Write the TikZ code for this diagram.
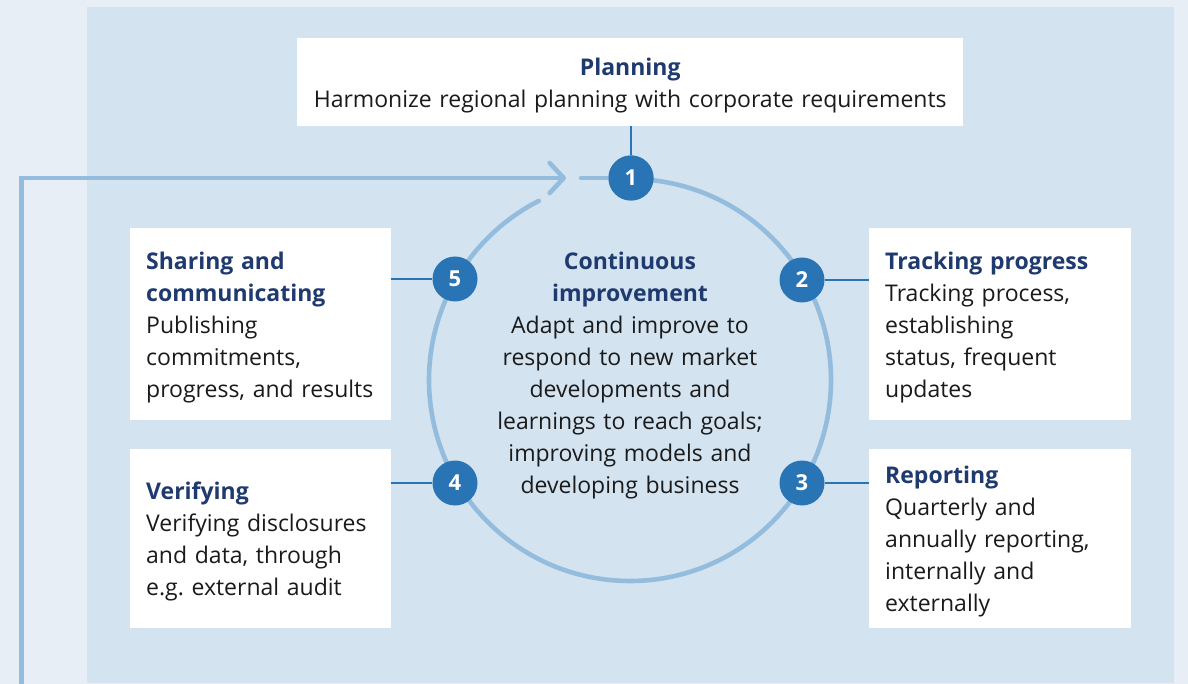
\documentclass[tikz,border=0pt]{standalone}
\usepackage{fontspec}
\setmainfont{Open Sans}
\usetikzlibrary{arrows.meta}
\definecolor{outerbg}{HTML}{E8EEF6}
\definecolor{panel}{HTML}{D4E3F0}
\definecolor{ring}{HTML}{94BCDD}
\definecolor{numblue}{HTML}{2874B5}
\definecolor{head}{HTML}{1F3A6E}
\definecolor{bodytext}{HTML}{1A1A1A}
\newcommand{\hd}[1]{{\bfseries\color{head}#1}}
\begin{document}
\begin{tikzpicture}[x=1pt,y=-1pt,
  txt/.style={font=\fontsize{23}{32}\selectfont, text=bodytext, inner sep=0pt},
  box/.style={fill=white, draw=none, inner sep=0pt, anchor=north west},
  boxtext/.style={txt, align=left, anchor=west, text width=#1, xshift=16pt, yshift=-3pt},
  num/.style={circle, fill=numblue, text=white, minimum size=45pt, inner sep=0pt, font=\fontsize{22}{24}\selectfont\bfseries},
  conn/.style={draw=numblue, line width=2.4pt},
  ringline/.style={draw=ring, line width=4.6pt}]
\useasboundingbox (0,0) rectangle (1188,684);
\fill[outerbg] (0,0) rectangle (1188,684);
\fill[panel] (87,7) rectangle (1174,683);
% boxes
\node[box, minimum width=666pt, minimum height=88pt] (plan) at (297,38) {};
\node[box, minimum width=261pt, minimum height=192pt] (share) at (130,228) {};
\node[box, minimum width=261pt, minimum height=179pt] (verify) at (130,449) {};
\node[box, minimum width=262pt, minimum height=192pt] (track) at (869,228) {};
\node[box, minimum width=262pt, minimum height=179pt] (report) at (869,449) {};
% box texts
\node[txt, align=center, text width=634pt, yshift=-3pt] (plant) at (plan.center)
  {\hd{Planning}\\Harmonize regional planning with corporate requirements};
\node[boxtext=229pt] (sharet) at (share.west)
  {\hd{Sharing and}\\\hd{communicating}\\Publishing\\commitments,\\progress, and results};
\node[boxtext=229pt] (verifyt) at (verify.west)
  {\hd{Verifying}\\Verifying disclosures\\and data, through\\e.g.\ external audit};
\node[boxtext=230pt] (trackt) at (track.west)
  {\hd{Tracking progress}\\Tracking process,\\establishing\\status, frequent\\updates};
\node[boxtext=230pt] (reportt) at (report.west)
  {\hd{Reporting}\\Quarterly and\\annually reporting,\\internally and\\externally};
% ring
\coordinate (ctr) at (630,380);
\coordinate (stub) at (581,178);
\coordinate (tip) at (566,178);
\coordinate (corner) at (21.5,178);
\coordinate (start) at (21.5,690);
\draw[ringline, line cap=round] (ctr) ++(-90:201) arc[start angle=-90, end angle=243, radius=201];
\node[num] (n1) at (631,178) {1};
\draw[ringline, line cap=round] (stub) -- (n1.center);
\draw[ringline, line join=miter, -{Straight Barb[length=14pt, width=30pt, round]}] (start) -- (corner) -- (tip);
% number circles
\node[num] (n1) at (631,178) {1};
\node[num] (n2) at (802,280) {2};
\node[num] (n3) at (802,483) {3};
\node[num] (n4) at (455,483) {4};
\node[num] (n5) at (455,279) {5};
% connectors
\draw[conn] (plan.south -| n1) -- (n1.north);
\draw[conn] (n5.west) -- (share.east |- n5);
\draw[conn] (n4.west) -- (verify.east |- n4);
\draw[conn] (n2.east) -- (track.west |- n2);
\draw[conn] (n3.east) -- (report.west |- n3);
% centre text
\node[txt, text width=290pt, align=center] (centre) at (630,376)
  {\hd{Continuous}\\\hd{improvement}\\Adapt and improve to\\respond to new market\\developments and\\learnings to reach goals;\\improving models and\\developing business};
\end{tikzpicture}
\end{document}
